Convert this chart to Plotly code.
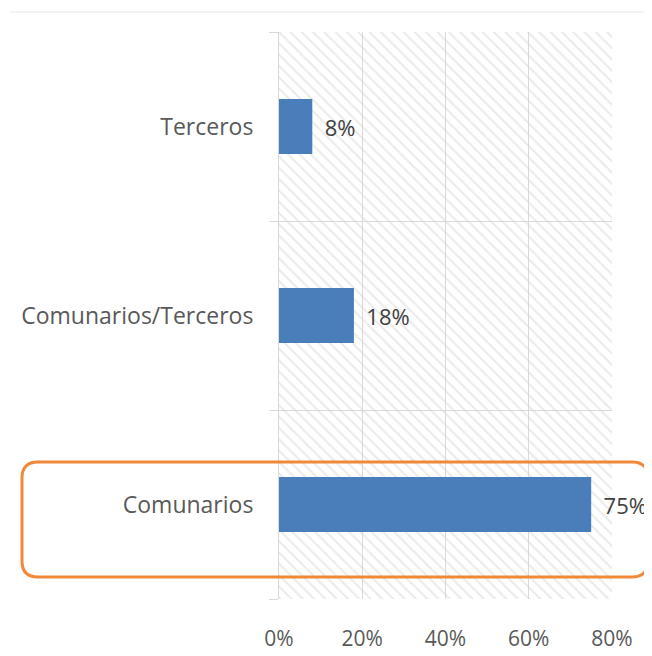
import plotly.graph_objects as go

# Datos (de abajo hacia arriba)
categorias = ["Comunarios", "Comunarios/Terceros", "Terceros"]
valores = [0.75, 0.18, 0.08]
etiquetas = ["75%", "18%", "8%"]
eje_x_max = 0.8

GRIS = "#d9d9d9"
TEXTO = "#595959"
AZUL = "#4a7ebb"
NARANJA = "#f0883a"

FONT = "Open Sans"

# la página deja 8 px de margen en el body: se descuentan aquí
OFF = 8
W, H = 652 - OFF, 656 - OFF

fig = go.Figure()

# fondo rayado del área de trazado
fig.add_trace(go.Bar(
    y=categorias,
    x=[eje_x_max] * len(categorias),
    orientation="h",
    width=1,
    marker=dict(
        color="rgba(0,0,0,0)",
        line=dict(width=0),
        pattern=dict(shape="\\", fgcolor="#d6d6d6", bgcolor="rgba(0,0,0,0)",
                     size=8, solidity=0.25),
    ),
    hoverinfo="skip",
    showlegend=False,
))

fig.add_trace(go.Bar(
    y=categorias,
    x=valores,
    orientation="h",
    width=0.29,
    marker=dict(color=AZUL, line=dict(width=0)),
    text=["\u00a0\u2009" + e for e in etiquetas],
    textposition="outside",
    textfont=dict(family=FONT, size=22, color="#404040"),
    cliponaxis=False,
    showlegend=False,
))

# coordenadas en px de la imagen -> papel
L, R, T, B = 279 - OFF, 612 - OFF, 32 - OFF, 599 - OFF


def px(x):
    return (x - OFF - L) / (R - L)


def py(y):
    return (B - (y - OFF)) / (B - T)


x0, x1, y0, y1 = px(22), px(648), py(577), py(462)
rx, ry = 16 / (R - L), 16 / (B - T)
path = (
    f"M {x0 + rx},{y1} L {x1 - rx},{y1} Q {x1},{y1} {x1},{y1 - ry} "
    f"L {x1},{y0 + ry} Q {x1},{y0} {x1 - rx},{y0} "
    f"L {x0 + rx},{y0} Q {x0},{y0} {x0},{y0 + ry} "
    f"L {x0},{y1 - ry} Q {x0},{y1} {x0 + rx},{y1} Z"
)

fig.add_shape(type="path", path=path, xref="paper", yref="paper",
              line=dict(color=NARANJA, width=3))

# línea separadora superior
fig.add_shape(type="line", xref="paper", yref="paper",
              x0=px(10), x1=px(660), y0=py(12), y1=py(12),
              line=dict(color="#e8e8e8", width=1))

fig.update_layout(
    width=W,
    height=H,
    margin=dict(l=L, r=W - R, t=T, b=H - B, autoexpand=False),
    barmode="overlay",
    plot_bgcolor="white",
    paper_bgcolor="white",
    font=dict(family=FONT, size=22, color=TEXTO),
    xaxis=dict(
        range=[0, eje_x_max],
        dtick=0.2,
        tickformat=".0%",
        showgrid=True,
        gridcolor=GRIS,
        gridwidth=1,
        zeroline=False,
        showline=False,
        ticks="",
        automargin=False,
        ticklabelstandoff=25,
        tickfont=dict(family=FONT, size=21, color=TEXTO),
    ),
    yaxis=dict(
        type="category",
        categoryorder="array",
        categoryarray=categorias,
        tickson="boundaries",
        showgrid=True,
        gridcolor=GRIS,
        ticks="outside",
        ticklen=9,
        tickcolor=GRIS,
        showline=True,
        linecolor=GRIS,
        automargin=False,
        ticklabelstandoff=20,
        tickfont=dict(family=FONT, size=23, color=TEXTO),
    ),
)

fig.write_html("out.html")
